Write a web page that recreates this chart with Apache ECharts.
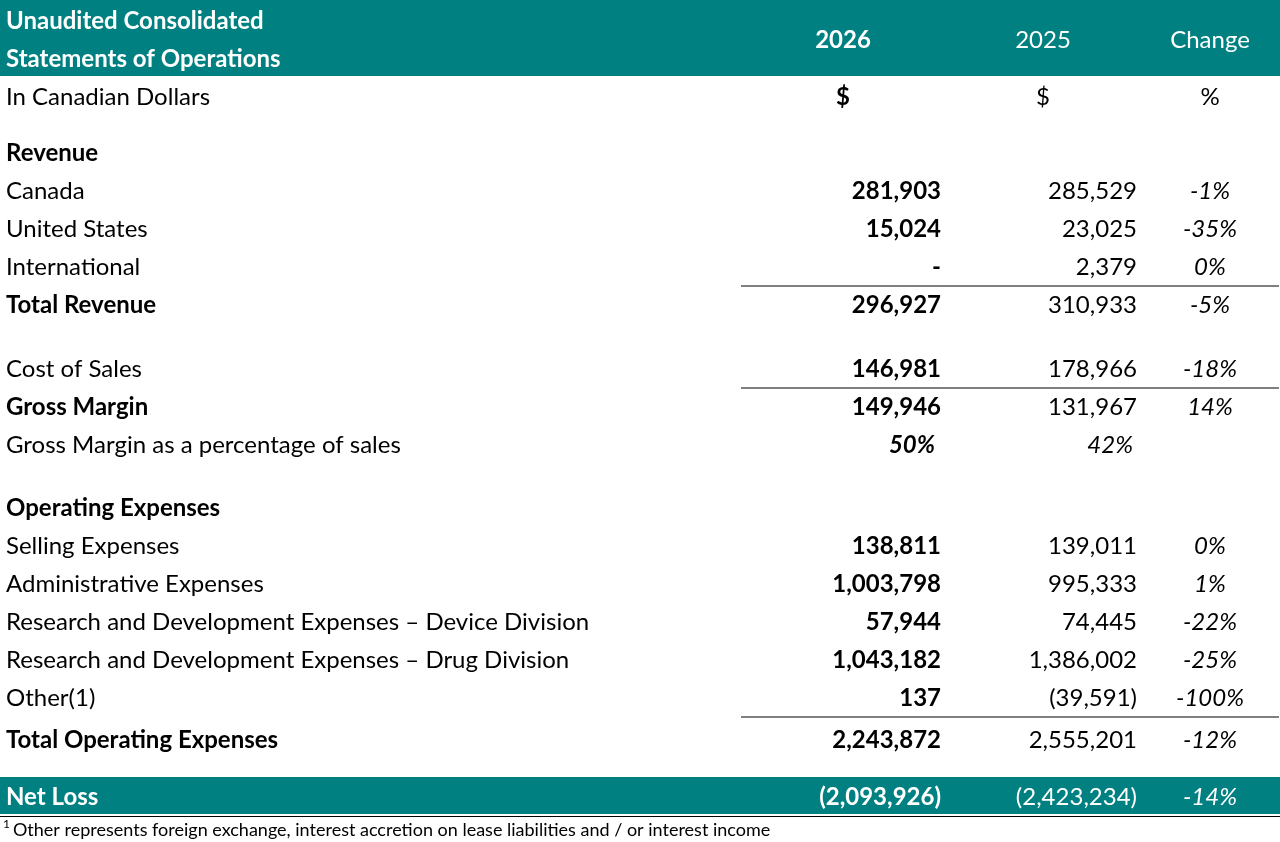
<!DOCTYPE html>
<html>
<head>
<meta charset="UTF-8">
<title></title>
<script src="https://cdn.jsdelivr.net/npm/echarts@6/dist/echarts.min.js"></script>
<style>
  html, body { margin: 0; padding: 0; background: #fff; }
  #main { width: 1280px; height: 842px; }
</style>
</head>
<body>
<div id="main"></div>
<script>
// table content
var rowLabels = ['In Canadian Dollars', 'Revenue', 'Canada', 'United States', 'International', 'Total Revenue',
  'Cost of Sales', 'Gross Margin', 'Gross Margin as a percentage of sales',
  'Operating Expenses', 'Selling Expenses', 'Administrative Expenses',
  'Research and Development Expenses \u2013 Device Division', 'Research and Development Expenses \u2013 Drug Division',
  'Other(1)', 'Total Operating Expenses'];
var rowY = [97, 153, 191, 229, 267, 305, 369, 407, 445, 508, 546, 584, 622, 660, 698, 740];
var values2026 = ['$', '', '281,903', '15,024', '-', '296,927', '146,981', '149,946', '50%', '', '138,811', '1,003,798', '57,944', '1,043,182', '137', '2,243,872'];
var values2025 = ['$', '', '285,529', '23,025', '2,379', '310,933', '178,966', '131,967', '42%', '', '139,011', '995,333', '74,445', '1,386,002', '(39,591)', '2,555,201'];
var changes = ['%', '', '-1%', '-35%', '0%', '-5%', '-18%', '14%', '', '', '0%', '1%', '-22%', '-25%', '-100%', '-12%'];
var boldLabels = [1, 5, 7, 9, 15];
var ruleAfter = [4, 6, 14];
var netLoss = ['Net Loss', '(2,093,926)', '(2,423,234)', '-14%'];
var footnote = 'Other represents foreign exchange, interest accretion on lease liabilities and / or interest income';

var TEAL = '#008080';
var F = 'Lato, "Open Sans", sans-serif';
var chart = echarts.init(document.getElementById('main'));
var els = [];
function txt(x, y, s, align, opt) {
  opt = opt || {};
  els.push({ type: 'text', x: x, y: y, style: {
    text: s, fill: opt.fill || '#000', align: align, verticalAlign: 'middle',
    font: (opt.italic ? 'italic ' : '') + (opt.bold ? 'bold ' : '') + (opt.size || 24) + 'px ' + F } });
}
function rect(x, y, w, h, c) { els.push({ type: 'rect', shape: { x: x, y: y, width: w, height: h }, style: { fill: c } }); }
function line(x1, x2, y) { els.push({ type: 'line', shape: { x1: x1, y1: y, x2: x2, y2: y }, style: { stroke: '#000', lineWidth: 1 } }); }

// header
rect(0, 0, 1280, 76, TEAL);
txt(6, 21, 'Unaudited Consolidated', 'left', { bold: true, fill: '#fff' });
txt(6, 59, 'Statements of Operations', 'left', { bold: true, fill: '#fff' });
txt(843, 40, '2026', 'center', { bold: true, fill: '#fff' });
txt(1043, 40, '2025', 'center', { fill: '#fff' });
txt(1210, 40, 'Change', 'center', { fill: '#fff' });

rowLabels.forEach(function (lab, i) {
  var y = rowY[i];
  var b = boldLabels.indexOf(i) >= 0;
  txt(6, y, lab, 'left', { bold: b });
  if (i === 0) {
    txt(843, y, values2026[i], 'center', { bold: true });
    txt(1043, y, values2025[i], 'center');
    txt(1210, y, changes[i], 'center');
    return;
  }
  if (i === 8) {
    txt(935, y, values2026[i], 'right', { bold: true, italic: true });
    txt(1133, y, values2025[i], 'right', { italic: true });
    return;
  }
  if (values2026[i]) txt(941, y, values2026[i], 'right', { bold: true });
  if (values2025[i]) txt(1137, y, values2025[i], 'right');
  if (changes[i]) txt(1210, y, changes[i], 'center', { italic: true });
  if (ruleAfter.indexOf(i) >= 0) line(741, 1279, y + 19);
});

// net loss band
rect(0, 777, 1280, 37, TEAL);
line(0, 1280, 816.5);
txt(6, 797, netLoss[0], 'left', { bold: true, fill: '#fff' });
txt(941, 797, netLoss[1], 'right', { bold: true, fill: '#fff' });
txt(1137, 797, netLoss[2], 'right', { fill: '#fff' });
txt(1210, 797, netLoss[3], 'center', { italic: true, fill: '#fff' });

// footnote
txt(3, 824, '1', 'left', { size: 12 });
txt(13, 830, footnote, 'left', { size: 18 });

chart.setOption({ animation: false, graphic: { elements: els } });
</script>
</body>
</html>
